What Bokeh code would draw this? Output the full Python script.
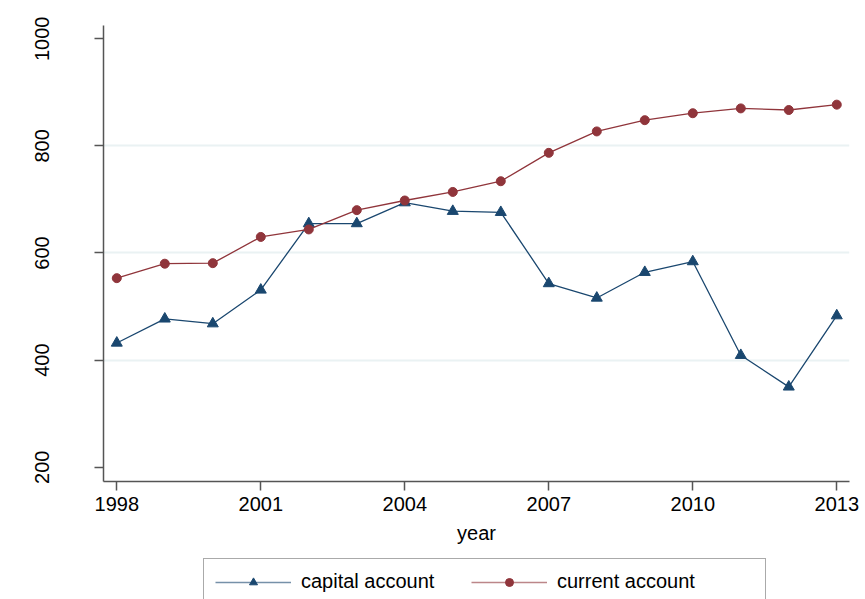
from bokeh.plotting import figure
from bokeh.layouts import column
from bokeh.models import FixedTicker, Legend, LegendItem
from bokeh.embed import file_html
from bokeh.resources import INLINE

years = [1998, 1999, 2000, 2001, 2002, 2003, 2004, 2005,
         2006, 2007, 2008, 2009, 2010, 2011, 2012, 2013]
capital_account = [432, 477, 468, 531, 655, 655, 694, 678,
                   676, 543, 516, 564, 584, 409, 350, 483]
current_account = [553, 580, 581, 630, 644, 680, 698, 714,
                   734, 787, 827, 848, 861, 870, 867, 877]
x_ticks = [1998, 2001, 2004, 2007, 2010, 2013]
y_ticks = [200, 400, 600, 800, 1000]
grid_ticks = [400, 600, 800]

BLUE = "#1a476f"
RED = "#90353b"
AXIS = "#555555"
FONT = "Liberation Sans"
NAN = float("nan")

p = figure(width=865, height=556,
           x_range=(1997.723, 2013.265), y_range=(173.3, 1024.8),
           output_backend="svg", toolbar_location=None,
           min_border_left=103, min_border_right=16,
           min_border_top=25, min_border_bottom=75)
p.background_fill_color = "white"
p.border_fill_color = "white"
p.outline_line_color = None

# grid
p.xgrid.visible = False
p.ygrid.ticker = FixedTicker(ticks=grid_ticks)
p.ygrid.grid_line_color = "#eaf2f3"
p.ygrid.grid_line_width = 2

# axes
for ax in (p.xaxis[0], p.yaxis[0]):
    ax.axis_line_color = AXIS
    ax.axis_line_width = 1.5
    ax.major_tick_line_color = AXIS
    ax.major_tick_line_width = 1.5
    ax.major_tick_in = 0
    ax.major_tick_out = 9
    ax.minor_tick_line_color = None
    ax.major_label_text_font = FONT
    ax.major_label_text_font_size = "20px"
    ax.major_label_text_color = "black"
    ax.axis_label_text_font = FONT
    ax.axis_label_text_font_size = "20px"
    ax.axis_label_text_font_style = "normal"
    ax.axis_label_text_color = "black"

p.xaxis.ticker = FixedTicker(ticks=x_ticks)
p.xaxis.major_label_standoff = 6
p.xaxis.axis_label = "year"
p.xaxis.axis_label_standoff = 8

p.yaxis.ticker = FixedTicker(ticks=y_ticks)
p.yaxis.major_label_orientation = "vertical"
p.yaxis.major_label_standoff = 45

# data
p.line(years, capital_account, line_color=BLUE, line_width=1.3)
p.scatter(years, capital_account, marker="triangle", size=11,
          fill_color=BLUE, line_color=BLUE)
p.line(years, current_account, line_color=RED, line_width=1.3)
p.scatter(years, current_account, marker="circle", size=9,
          fill_color=RED, line_color=RED)

# legend strip below the chart (same frame as the chart)
lg = figure(width=865, height=43, x_range=(0, 1), y_range=(0, 1),
            output_backend="svg", toolbar_location=None,
            x_axis_location=None, y_axis_location=None,
            min_border_left=103, min_border_right=16,
            min_border_top=0, min_border_bottom=0)
lg.grid.visible = False
lg.background_fill_color = "white"
lg.border_fill_color = "white"
lg.outline_line_color = None

# key-only renderers (a single NaN point: nothing is drawn)
lc = lg.line([NAN], [NAN], line_color=BLUE, line_width=1.5, line_alpha=0.6)
mc = lg.scatter([NAN], [NAN], marker="triangle", fill_color=BLUE, line_color=BLUE)
lr = lg.line([NAN], [NAN], line_color=RED, line_width=1.5, line_alpha=0.6)
mr = lg.scatter([NAN], [NAN], marker="circle", fill_color=RED, line_color=RED)

legend = Legend(items=[LegendItem(label="capital account", renderers=[lc, mc]),
                       LegendItem(label="current account", renderers=[lr, mr])],
                orientation="horizontal",
                location=(100, -6),
                glyph_width=76, glyph_height=20,
                label_standoff=10, label_width=170, label_height=20,
                spacing=0, padding=11, margin=0,
                title=" ", title_location="right",
                title_text_font_size="1px", title_standoff=26,
                label_text_font=FONT, label_text_font_size="20px",
                label_text_color="black",
                border_line_color=AXIS, border_line_width=1.2,
                background_fill_color="white", background_fill_alpha=1.0)
lg.add_layout(legend)

layout = column(p, lg, spacing=0)
open("out.html", "w").write(file_html(layout, INLINE))
